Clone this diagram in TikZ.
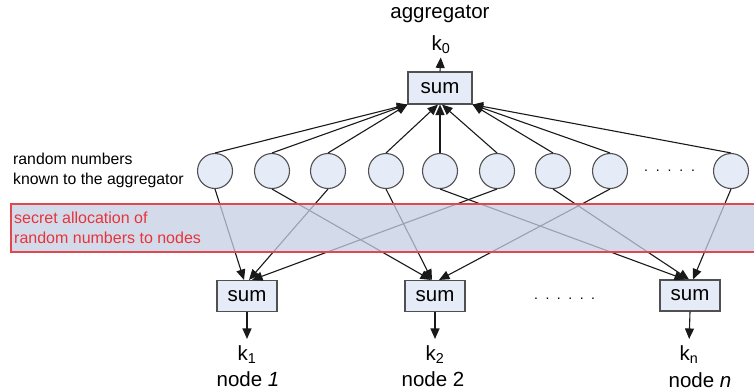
\documentclass[tikz,border=0pt]{standalone}
\usepackage{fontspec}
\setmainfont{Liberation Sans}
\usetikzlibrary{arrows.meta}
\definecolor{boxfill}{HTML}{E5ECF7}
\definecolor{edgegray}{HTML}{505050}
\definecolor{bandfill}{rgb}{0.77,0.81,0.89}
\definecolor{bandred}{HTML}{E0474F}
\definecolor{textred}{HTML}{E8333A}
\begin{document}
\begin{tikzpicture}[x=1pt,y=-1pt,
  sumbox/.style={draw=edgegray, line width=1.1pt, fill=boxfill,
    minimum width=60pt, minimum height=31pt, inner sep=0pt,
    font=\fontsize{20.5}{24}\selectfont},
  rnd/.style={circle, draw=edgegray, line width=1.1pt, fill=boxfill,
    minimum size=35pt, inner sep=0pt},
  wire/.style={line width=1.1pt, draw=black!90},
  arr/.style={wire, -{Triangle[length=10.5pt,width=9pt]}},
  big/.style={font=\fontsize{20.5}{24}\selectfont, inner sep=0pt},
  small/.style={font=\fontsize{15.8}{20}\selectfont, align=left, inner sep=0pt},
  dots/.style={font=\fontsize{14}{16}\selectfont, inner sep=0pt},
]
\useasboundingbox (0,0) rectangle (754,391);

% aggregator side
\node[big, anchor=base] (aggname) at (440,18) {aggregator};
\node[big, anchor=base] (k0) at (441,50) {k\textsubscript{0}};
\node[sumbox, minimum width=64pt, minimum height=32pt] (agg) at (440,88) {sum};

% random numbers
\foreach \n/\x in {1/215,2/272,3/328,4/386,5/440,6/497,7/553,8/610,9/731}
  \node[rnd] (c\n) at (\x,171) {};
\node[dots, anchor=base west] (rdots) at (644,171) {.\hspace{7.85pt}.\hspace{7.85pt}.\hspace{7.85pt}.\hspace{7.85pt}.};
\node[small, anchor=west] (rndlabel) at (13,170) {random numbers\\known to the aggregator};

% node side
\node[sumbox] (b1) at (247,296) {sum};
\node[sumbox] (b2) at (435,296) {sum};
\node[sumbox] (bn) at (690,295.5) {sum};
\node[dots, anchor=base west] (ndots) at (534,299) {.\hspace{7.5pt}.\hspace{7.5pt}.\hspace{7.5pt}.\hspace{7.5pt}.\hspace{7.5pt}.};
\node[big, anchor=base] (k1) at (247,360) {k\textsubscript{1}};
\node[big, anchor=base] (k2) at (435,360) {k\textsubscript{2}};
\node[big, anchor=base] (kn) at (689,360) {k\textsubscript{n}};
\node[big, anchor=base] (n1) at (248,386) {node \textit{1}};
\node[big, anchor=base] (n2) at (433,386) {node 2};
\node[big, anchor=base] (nn) at (700,387) {node \textit{n}};

% outputs
\draw[arr, shorten >=4pt] (agg.north) -- (k0.south);
\draw[arr, shorten >=6pt] (b1.south) -- (k1.north);
\draw[arr, shorten >=6pt] (b2.south) -- (k2.north);
\draw[arr, shorten >=6pt] (bn.south) -- (kn.north);

% every random number reaches the aggregator
\foreach \n in {1,2,3} \draw[arr] (c\n.north) -- (agg.south west);
\draw[arr] (c4.north) -- ([xshift=-2pt]agg.south);
\draw[arr] (c5.north) -- (agg.south);
\draw[arr] (c6.north) -- ([xshift=2pt]agg.south);
\foreach \n in {7,8,9} \draw[arr] (c\n.north) -- (agg.south east);

% each random number goes to exactly one node
\draw[arr] (c1.south) -- ([xshift=-3pt]b1.north);
\draw[arr] (c3.south) -- ([xshift=2pt]b1.north);
\draw[arr] (c6.south) -- ([xshift=5pt]b1.north);
\draw[arr] (c2.south) -- ([xshift=-4pt]b2.north);
\draw[arr] (c4.south) -- ([xshift=-3pt]b2.north);
\draw[arr] (c8.south) -- ([xshift=4pt]b2.north);
\draw[arr] (c5.south) -- ([xshift=-5pt]bn.north);
\draw[arr] (c7.south) -- ([xshift=-1pt]bn.north);
\draw[arr] (c9.south) -- ([xshift=3pt]bn.north);

% secret allocation band laid over the wires
\fill[bandfill, fill opacity=0.75] (11,204) rectangle (756,252);
\draw[bandred, line width=1.2pt] (756,204) -- (11,204) -- (11,252) -- (756,252);
\node[small, text=textred, font=\fontsize{16}{20}\selectfont, anchor=west] (bandlabel) at (14,228)
  {secret allocation of\\random numbers to nodes};
\end{tikzpicture}
\end{document}
